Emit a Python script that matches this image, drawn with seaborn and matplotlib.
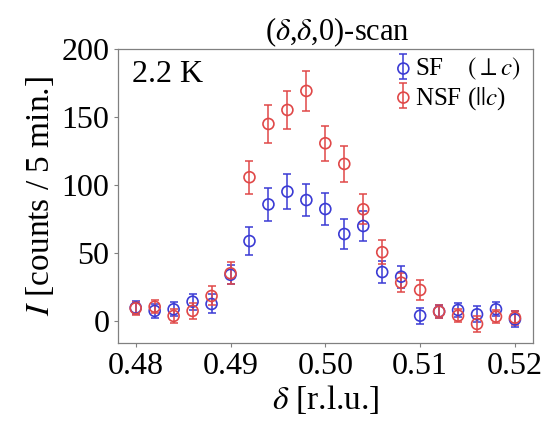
import numpy as np
import pandas as pd
import matplotlib
matplotlib.use('Agg')
import matplotlib.pyplot as plt
import seaborn as sns

# scan positions (r.l.u.)
delta = [0.480, 0.482, 0.484, 0.486, 0.488, 0.490, 0.492, 0.494, 0.496, 0.498, 0.500,
         0.502, 0.504, 0.506, 0.508, 0.510, 0.512, 0.514, 0.516, 0.518, 0.520]

# spin-flip channel (perp c)
sf = [9.8, 7.4, 8.6, 14.2, 12.5, 34.0, 58.8, 85.8, 95.2, 89.0, 82.4,
      64.0, 69.9, 36.0, 32.6, 3.9, 7.0, 8.1, 4.9, 8.6, 1.2]
sf_err = [5, 5, 5, 6, 7, 7, 10, 12, 13, 12, 12,
          11, 11, 8, 8, 6, 5, 5, 6, 5, 6]

# non-spin-flip channel (|| c)
nsf = [9.3, 10.5, 3.7, 7.4, 18.4, 35.1, 105.8, 145.0, 155.3, 169.3, 130.8,
       115.6, 82.2, 50.6, 28.2, 22.8, 6.9, 3.9, -2.2, 3.2, 2.4]
nsf_err = [5, 5, 5, 6, 7, 8, 12, 14, 14, 15, 13,
           13, 11, 9, 7, 7, 5, 5, 6, 5, 5]

blue = '#3b3bd4'
red = '#e04848'

sns.set_theme(style='ticks')
plt.rcParams['font.family'] = ['Liberation Serif', 'DejaVu Serif']
plt.rcParams['mathtext.fontset'] = 'stix'
plt.rcParams['text.color'] = 'black'
plt.rcParams['axes.labelcolor'] = 'black'

df = pd.DataFrame({
    'delta': delta * 2,
    'I': sf + nsf,
    'err': sf_err + nsf_err,
    'mode': ['SF'] * len(delta) + ['NSF'] * len(delta),
})

fig = plt.figure(figsize=(5.53, 4.28), dpi=100)
ax = fig.add_axes([0.2128, 0.198, 0.751, 0.687])

handles = []
for mode, col in [('SF', blue), ('NSF', red)]:
    sub = df[df['mode'] == mode]
    eb = ax.errorbar(sub['delta'], sub['I'], yerr=sub['err'], fmt='none',
                     ecolor=col, elinewidth=1.1, capsize=2.6, capthick=1.1, zorder=2)
    sns.scatterplot(data=sub, x='delta', y='I', ax=ax, marker='o', s=62,
                    color='white', edgecolor=col, linewidth=1.2, zorder=3,
                    legend=False)
    coll = ax.collections[-1]
    coll.set_facecolor('none')
    coll.set_edgecolor(col)
    handles.append((eb, coll))

ax.set_xlim(0.4781, 0.5219)
ax.set_ylim(-16.4, 200)
ax.set_xticks([0.48, 0.49, 0.50, 0.51, 0.52])
ax.set_xticklabels(['0.48', '0.49', '0.50', '0.51', '0.52'])
ax.set_yticks([0, 50, 100, 150, 200])

ax.tick_params(axis='both', labelsize=23, length=3, width=0.8, color='#808080',
               direction='out', pad=3, labelcolor='black')
for sp in ax.spines.values():
    sp.set_color('#808080')
    sp.set_linewidth(0.9)

ax.set_xlabel(r'$\delta$ [r.l.u.]', fontsize=24, labelpad=2)
ax.set_ylabel(r'$I$ [counts / 5 min.]', fontsize=24, labelpad=4)
ax.set_title(r'($\delta$,$\delta$,0)-scan', fontsize=22, pad=6, x=0.53)

ax.text(0.035, 0.965, '2.2 K', transform=ax.transAxes, fontsize=23,
        ha='left', va='top')

ax.legend(handles, [r'SF    $(\perp c)$', r'NSF ($||c$)'],
          loc='upper right', bbox_to_anchor=(0.985, 1.0), frameon=False,
          fontsize=18, handlelength=0.5, handletextpad=0.2, labelspacing=0.12,
          borderaxespad=0.05, borderpad=0.2, scatterpoints=1)

fig.savefig('out.png', dpi=100)
